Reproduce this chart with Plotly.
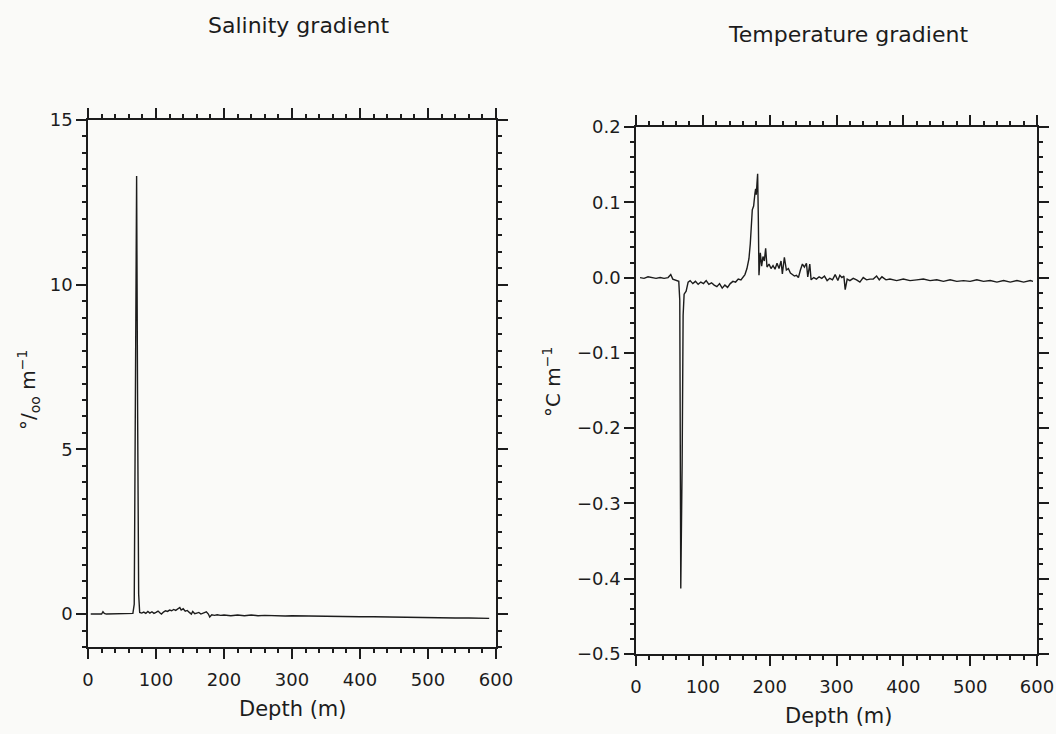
import plotly.graph_objects as go

# ---------------- data ----------------
sal_depth = [4, 15, 20, 22, 24, 27, 35, 45, 55, 62, 66, 68, 70, 71.5, 73, 74.5, 76, 79, 82, 85, 88, 91,
             94, 97, 100, 103, 106, 108, 111, 114, 117, 120, 123, 126, 129, 132, 135, 137, 140, 143,
             146, 149, 152, 154, 157, 160, 163, 166, 169, 172, 174, 177, 179, 182, 186, 190, 195, 200,
             210, 220, 230, 240, 250, 260, 270, 280, 290, 300, 320, 340, 360, 380, 400, 420, 440, 460,
             480, 500, 520, 540, 560, 575, 590]
sal_grad = [0.0, 0.0, 0.0, 0.07, 0.02, 0.0, 0.0, 0.0, 0.0, 0.0, 0.02, 0.3, 7.5, 13.3, 6.0, 0.6, 0.05,
            0.03, 0.06, 0.02, 0.08, 0.03, 0.07, 0.02, 0.05, 0.09, 0.03, 0.0, 0.06, 0.1, 0.08, 0.12, 0.1,
            0.14, 0.11, 0.15, 0.2, 0.12, 0.16, 0.09, 0.11, 0.05, 0.0, 0.08, 0.01, 0.03, 0.05, 0.0, 0.02,
            0.04, 0.07, 0.0, -0.09, -0.02, -0.04, -0.02, -0.04, -0.03, -0.05, -0.03, -0.05, -0.03,
            -0.05, -0.04, -0.05, -0.04, -0.06, -0.05, -0.06, -0.06, -0.07, -0.07, -0.08, -0.08, -0.09,
            -0.09, -0.1, -0.11, -0.11, -0.12, -0.12, -0.13, -0.13]

tmp_depth = [6, 12, 18, 24, 30, 36, 42, 48, 52, 55, 60, 64, 65.5, 67, 69, 70.5, 72, 75, 78, 81, 85,
             89, 93, 97, 101, 105, 109, 113, 117, 121, 125, 129, 133, 137, 141, 145, 149, 153, 157,
             160, 163, 166, 169, 171, 172, 174, 176, 177, 178, 179, 180, 181, 182, 183, 184, 186, 188,
             190, 192, 194, 196, 199, 202, 205, 208, 211, 214, 217, 219, 222, 225, 228, 231, 234, 237,
             240, 243, 246, 249, 252, 255, 257, 260, 262, 266, 270, 274, 278, 282, 286, 290, 294, 298,
             302, 305, 308, 311, 313, 316, 320, 325, 330, 335, 340, 345, 350, 355, 360, 364, 368, 374,
             380, 390, 400, 410, 420, 430, 440, 450, 460, 470, 480, 490, 500, 510, 520, 530, 540, 550,
             560, 570, 580, 590, 594]
tmp_grad = [0.0, -0.001, 0.001, 0.0, -0.001, 0.0, -0.001, 0.0, 0.004, -0.002, -0.004, -0.005, -0.03,
            -0.413, -0.25, -0.05, -0.022, -0.018, -0.006, -0.004, -0.008, -0.005, -0.009, -0.006,
            -0.008, -0.004, -0.009, -0.007, -0.01, -0.012, -0.008, -0.014, -0.01, -0.013, -0.008,
            -0.005, -0.006, -0.002, -0.003, 0.0, 0.004, 0.012, 0.025, 0.045, 0.06, 0.09, 0.095, 0.108,
            0.112, 0.118, 0.11, 0.125, 0.138, 0.08, 0.003, 0.033, 0.015, 0.028, 0.022, 0.039, 0.014,
            0.018, 0.012, 0.016, 0.011, 0.019, 0.012, 0.022, 0.005, 0.027, 0.01, 0.012, 0.006, 0.004,
            0.002, 0.003, 0.0, 0.01, 0.018, 0.014, 0.019, 0.001, 0.018, -0.003, 0.0, -0.002, 0.001,
            -0.001, 0.002, -0.004, -0.001, -0.003, 0.004, -0.004, 0.003, 0.0, 0.002, -0.016, -0.002,
            -0.004, -0.001, -0.003, -0.006, 0.0, -0.003, -0.002, -0.002, 0.002, -0.003, 0.001, -0.003,
            -0.002, -0.004, -0.002, -0.004, -0.003, -0.002, -0.004, -0.003, -0.005, -0.003, -0.005,
            -0.004, -0.005, -0.003, -0.005, -0.004, -0.006, -0.004, -0.006, -0.004, -0.006, -0.004,
            -0.005]

x_ticks = [0, 100, 200, 300, 400, 500, 600]
sal_ticks = [0, 5, 10, 15]
tmp_ticks = [-0.5, -0.4, -0.3, -0.2, -0.1, 0.0, 0.1, 0.2]

# ---------------- figure ----------------
INK = "#1c1c1c"
FONT = "DejaVu Sans"
W, H = 1056, 734

fig = go.Figure()
fig.add_trace(go.Scatter(x=sal_depth, y=sal_grad, mode="lines",
                         line=dict(color=INK, width=1.4), xaxis="x", yaxis="y",
                         showlegend=False, hoverinfo="skip"))
fig.add_trace(go.Scatter(x=tmp_depth, y=tmp_grad, mode="lines",
                         line=dict(color=INK, width=1.4), xaxis="x2", yaxis="y2",
                         showlegend=False, hoverinfo="skip"))


def axis_common(**kw):
    d = dict(showgrid=False, zeroline=False, showline=True, linecolor=INK, linewidth=1.5,
             mirror="ticks", ticks="outside", ticklen=10, tickwidth=1.5, tickcolor=INK,
             automargin=False,
             tickfont=dict(family=FONT, size=18, color=INK), fixedrange=True)
    d.update(kw)
    return d


fig.update_layout(
    width=W, height=H,
    margin=dict(l=0, r=0, t=0, b=0, pad=0, autoexpand=False),
    paper_bgcolor="#fafaf8", plot_bgcolor="#fafaf8",
    xaxis=axis_common(domain=[88 / W, 496 / W], range=[0, 600], tickvals=x_ticks,
                      anchor="y", ticklabelstandoff=6,
                      minor=dict(dtick=20, tick0=0, ticklen=4, ticks="outside",
                                 tickwidth=1.5, tickcolor=INK)),
    yaxis=axis_common(domain=[1 - 647 / H, 1 - 120 / H], range=[-1, 15], tickvals=sal_ticks,
                      anchor="x",
                      minor=dict(dtick=0.5, tick0=0, ticklen=4, ticks="outside",
                                 tickwidth=1.5, tickcolor=INK)),
    xaxis2=axis_common(domain=[636 / W, 1037 / W], range=[0, 600], tickvals=x_ticks,
                       anchor="y2", ticklabelstandoff=6,
                       minor=dict(dtick=20, tick0=0, ticklen=4, ticks="outside",
                                  tickwidth=1.5, tickcolor=INK)),
    yaxis2=axis_common(domain=[1 - 654 / H, 1 - 127 / H], range=[-0.5, 0.2], tickvals=tmp_ticks,
                       tickformat=".1f", anchor="x2",
                       minor=dict(dtick=0.02, tick0=0, ticklen=4, ticks="outside",
                                  tickwidth=1.5, tickcolor=INK)),
)


def ann(text, x, y, size, angle=0):
    fig.add_annotation(text=text, x=x / W, y=1 - y / H, xref="paper", yref="paper",
                       showarrow=False, textangle=angle, xanchor="center", yanchor="middle",
                       font=dict(family=FONT, size=size, color=INK))


ann("Salinity gradient", 298, 26, 22)
ann("Temperature gradient", 848, 34, 22)
ann("Depth (m)", 292, 709, 21)
ann("Depth (m)", 838, 716, 21)
ann("°/<sub>oo</sub> m<sup>−1</sup>", 28, 390, 20, angle=-90)
ann("°C m<sup>−1</sup>", 552, 382, 20, angle=-90)

fig.write_html("out.html")
